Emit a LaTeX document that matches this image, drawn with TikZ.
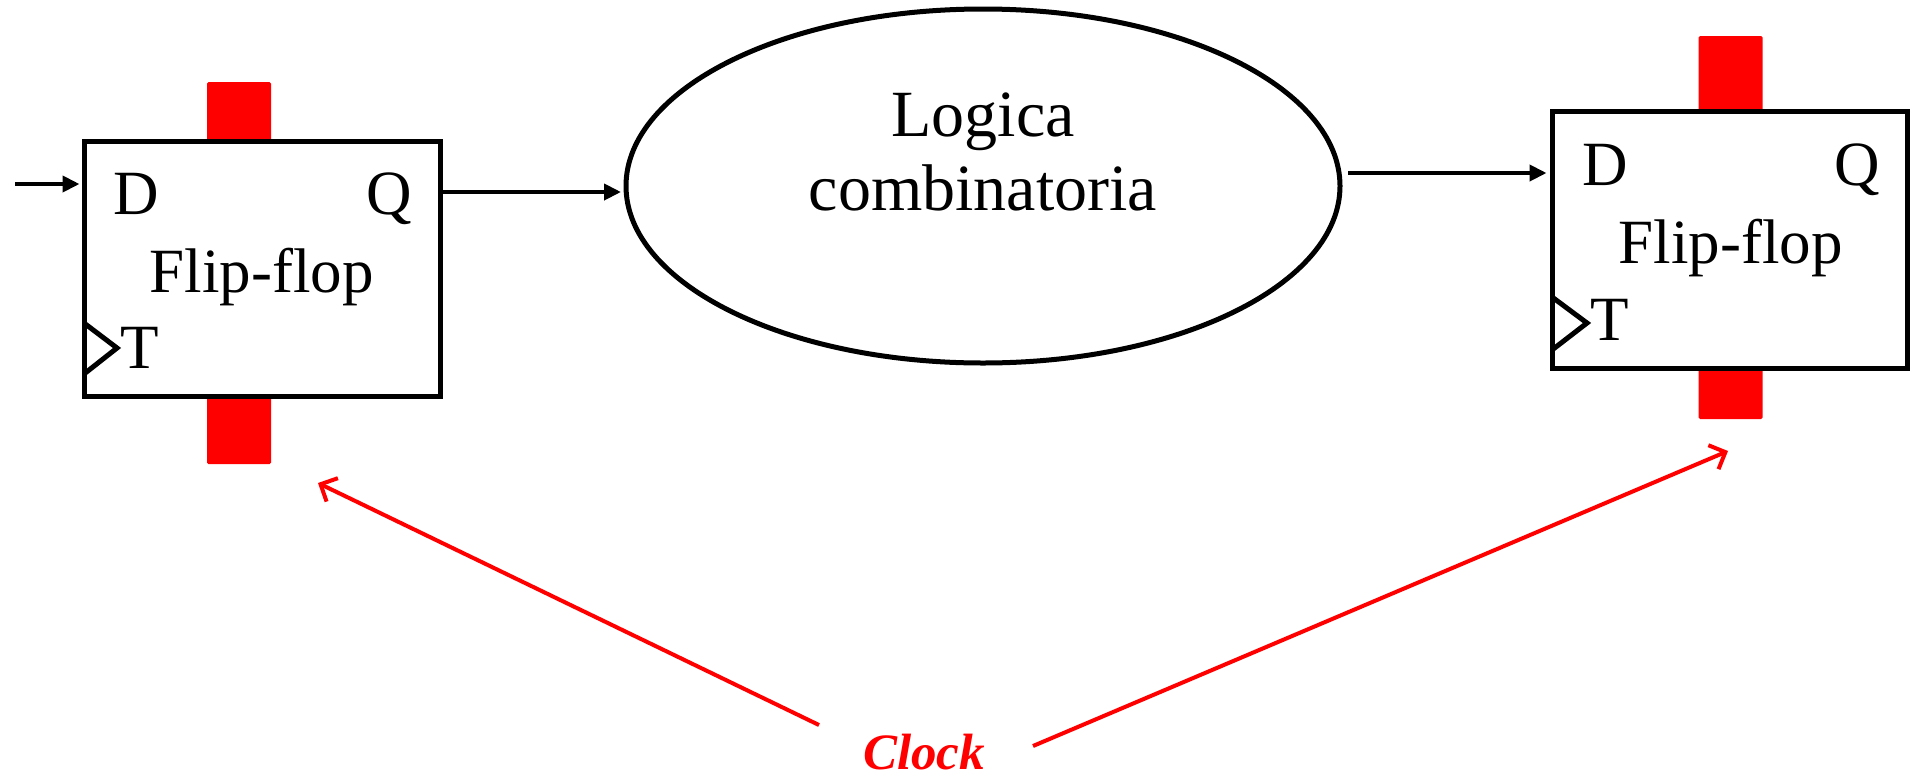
\documentclass[tikz,border=0pt]{standalone}
\usepackage{fontspec}
\setmainfont{Liberation Serif}
\usetikzlibrary{shapes.geometric,arrows.meta}
\begin{document}
\begin{tikzpicture}[x=1pt,y=-1pt,
  ffbox/.style={draw,line width=5pt,rectangle,inner sep=0pt,fill=white},
  redbar/.style={fill=red,draw=none,rounded corners=1.5pt,inner sep=0pt,minimum width=64pt},
  lbl/.style={font=\fontsize{63}{70}\selectfont,inner sep=0pt},
  elbl/.style={font=\fontsize{66}{72}\selectfont,inner sep=0pt},
  sig/.style={line width=4pt,-{Triangle[length=17pt,width=16pt]}},
  clk/.style={red,line width=4pt,-{Straight Barb[length=13pt,width=26pt]}}]
\useasboundingbox (0,0) rectangle (1910,777);
% red clock bars
\node[redbar,minimum height=60pt] (b1t) at (239,112) {};
\node[redbar,minimum height=69pt] (b1b) at (239,429.5) {};
\node[redbar,minimum height=76pt] (b2t) at (1730.5,74) {};
\node[redbar,minimum height=52pt] (b2b) at (1730.5,393) {};
% flip-flops
\node[ffbox,minimum width=356pt,minimum height=255pt] (ff1) at (262,268.5) {};
\node[ffbox,minimum width=355pt,minimum height=257pt] (ff2) at (1729.5,239.5) {};
\draw[line width=5pt,line join=miter] (84,323) -- (117,348) -- (84,374);
\draw[line width=5pt,line join=miter] (1552,297) -- (1587,323) -- (1552,350);
% labels in flip-flop 1
\node[lbl,anchor=base west] (d1) at (113,214) {D};
\node[lbl,anchor=base east] (q1) at (412,214) {Q};
\node[lbl,anchor=base] (f1) at (261.5,292) {Flip-flop};
\node[lbl,anchor=base west] (t1) at (120,368) {T};
% labels in flip-flop 2
\node[lbl,anchor=base west] (d2) at (1582,185) {D};
\node[lbl,anchor=base east] (q2) at (1880,185) {Q};
\node[lbl,anchor=base] (f2) at (1730.5,263) {Flip-flop};
\node[lbl,anchor=base west] (t2) at (1590,340) {T};
% combinational logic
\node[draw,ellipse,line width=5pt,minimum width=714pt,minimum height=354pt,inner sep=0pt] (ell) at (983,186) {};
\node[elbl,anchor=base] (lg1) at (983,136) {Logica};
\node[elbl,anchor=base] (lg2) at (983,210) {combinatoria};
% data connectors
\coordinate (in1) at (15,184);
\draw[sig] (in1) -- ([xshift=-2pt]in1 -| ff1.west);
\coordinate (o1) at (443,192);
\draw[sig] (o1) -- (621,192);
\coordinate (o2) at (1348,173);
\draw[sig] (o2) -- ([xshift=-3pt]o2 -| ff2.west);
% clock
\node[red,font=\fontsize{51}{56}\selectfont\bfseries\itshape,inner sep=0pt] (clock) at (924,752) {Clock};
\coordinate (c1s) at (819,725);
\coordinate (c1e) at (318,483);
\coordinate (c2s) at (1033,746);
\coordinate (c2e) at (1728,451);
\draw[clk] (c1s) -- (c1e);
\draw[clk] (c2s) -- (c2e);
\end{tikzpicture}
\end{document}
